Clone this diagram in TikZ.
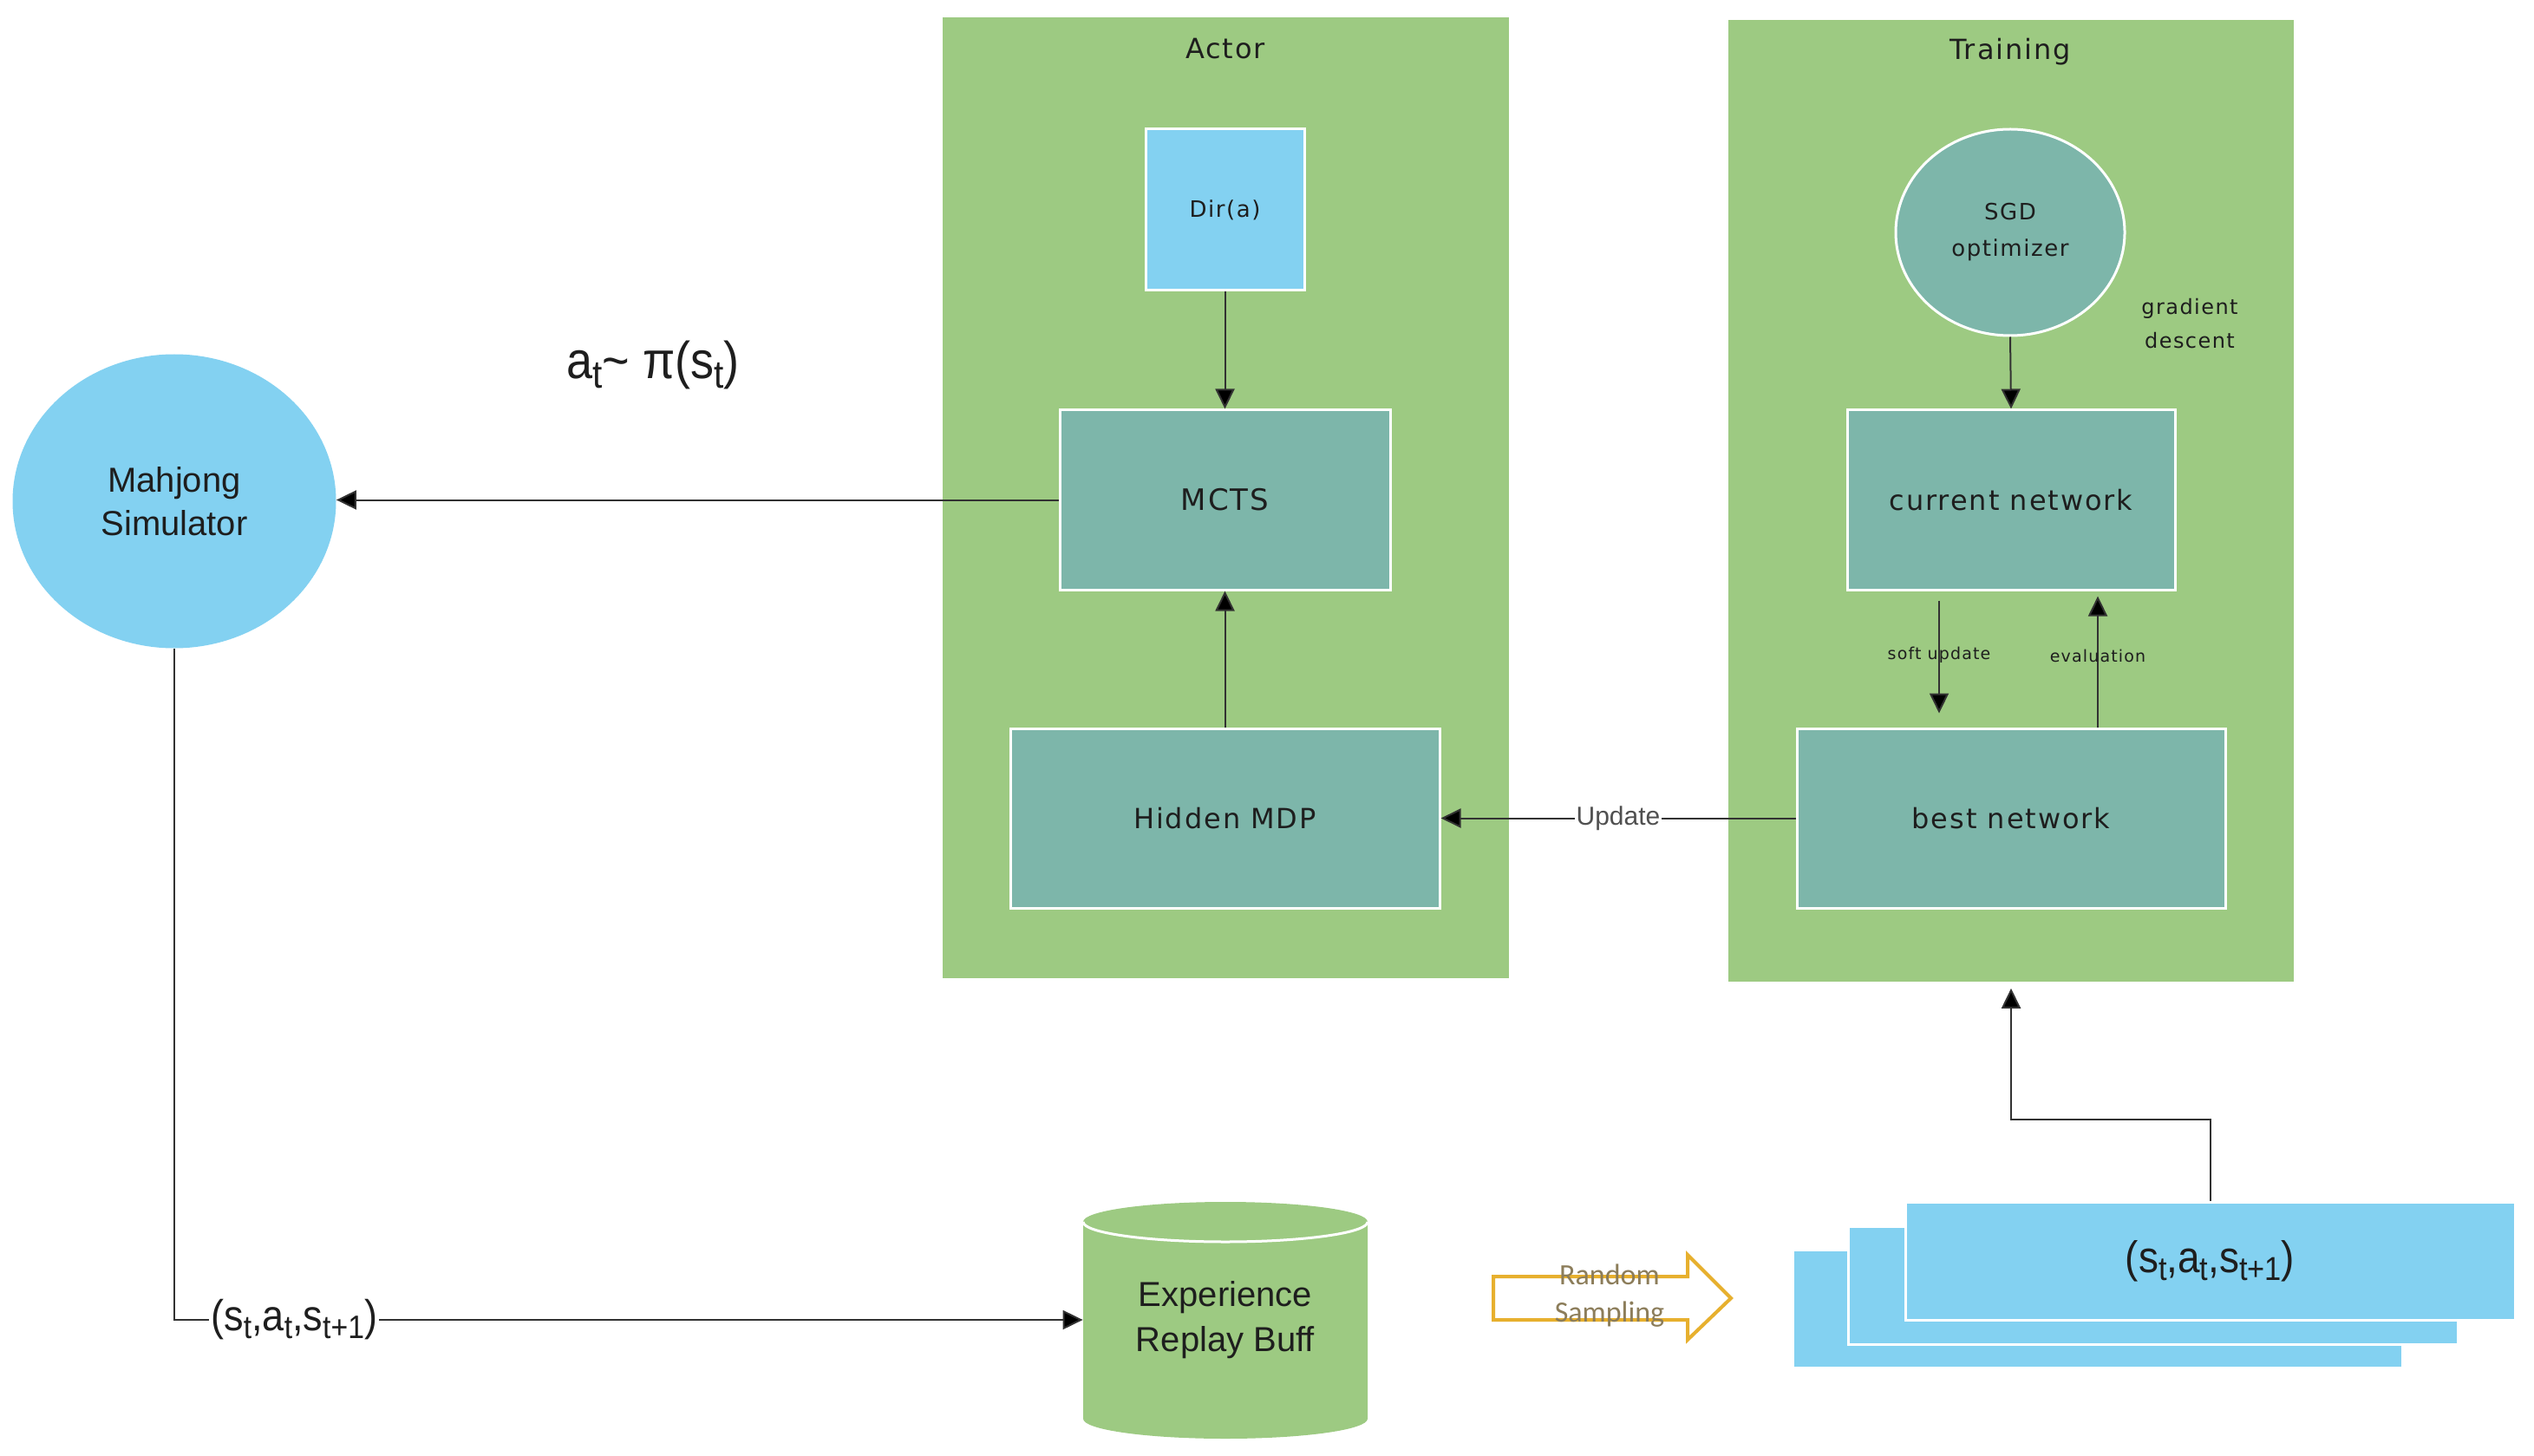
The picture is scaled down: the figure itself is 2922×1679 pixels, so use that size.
\documentclass[tikz,border=0pt]{standalone}
\usepackage{fontspec}
\setmainfont{Liberation Sans}
\newfontfamily\wide[LetterSpace=6]{DejaVu Sans}
\newfontfamily\narrow[FakeStretch=0.9]{Liberation Sans}
\newfontfamily\carl{Carlito}
\usetikzlibrary{arrows.meta,shapes.geometric}
\definecolor{pgreen}{RGB}{157,202,130}
\definecolor{pteal}{RGB}{125,182,170}
\definecolor{pblue}{RGB}{131,209,241}
\definecolor{porange}{RGB}{231,176,46}
\definecolor{pline}{RGB}{50,50,50}
\definecolor{ptext}{RGB}{30,30,30}
\newcommand\sbs[1]{\raisebox{-0.18em}{\scalebox{0.75}{#1}}}
\begin{document}
\begin{tikzpicture}[x=0.5pt,y=-0.5pt,
  panel/.style={rectangle, fill=pgreen, draw=white, line width=0.8pt, inner sep=0pt},
  ptitle/.style={font=\wide\fontsize{16}{19}\selectfont, text=ptext, inner sep=0pt},
  tealbox/.style={rectangle, fill=pteal, draw=white, line width=1.5pt, inner sep=0pt,
    font=\wide\fontsize{16}{19}\selectfont, text=ptext, align=center},
  bluebox/.style={rectangle, fill=pblue, draw=white, line width=1.5pt, inner sep=0pt,
    text=ptext, align=center},
  smalllab/.style={font=\wide\fontsize{9.5}{11}\selectfont, text=ptext, inner sep=0pt},
  arr/.style={draw=pline, line width=1pt, -{Triangle[length=11.5pt,width=11pt,fill=black]}},
]
\fill[white] (0,0) rectangle (2922,1679);
\useasboundingbox (0,0) rectangle (2922,1679);

% panels
\node[panel, minimum width=327.5pt, minimum height=555pt] (actor) at (1413.5,574) {};
\node[panel, minimum width=327pt, minimum height=555.5pt] (train) at (2319,577.5) {};
\node[ptitle] (actort) at (1413,56) {Actor};
\node[ptitle] (traint) at (2318,60) {Training};

% actor contents
\node[bluebox, minimum width=91.5pt, minimum height=93pt, font=\wide\fontsize{13}{15}\selectfont] (dir) at (1412.5,242) {Dir(a)};
\node[tealbox, minimum width=190.5pt, minimum height=103.5pt, font=\wide\fontsize{17}{19}\selectfont] (mcts) at (1412.5,576.5) {MCTS};
\node[tealbox, minimum width=247.5pt, minimum height=103.5pt] (hmdp) at (1412.5,943.5) {Hidden MDP};

% training contents
\node[ellipse, fill=pteal, draw=white, line width=1.5pt, inner sep=0pt,
  minimum width=132pt, minimum height=119pt, align=center, text=ptext,
  font=\wide\fontsize{13}{21}\selectfont] (sgd) at (2318,268) {SGD\\optimizer};
\node[align=center, text=ptext, font=\wide\fontsize{12}{19.5}\selectfont] (grad) at (2525,373) {gradient\\descent};
\node[tealbox, minimum width=189pt, minimum height=103.5pt] (cur) at (2319,576.5) {current network};
\node[tealbox, minimum width=247pt, minimum height=103.5pt] (best) at (2319,943.5) {best network};

% simulator
\node[ellipse, fill=pblue, inner sep=0pt, minimum width=186.5pt, minimum height=169.5pt,
  align=center, text=ptext, font=\fontsize{20}{25}\selectfont] (mahjong) at (201,578) {Mahjong\\Simulator};
\node[text=ptext, font=\narrow\fontsize{30}{34}\selectfont, inner sep=0pt] (pol) at (753,421)
  {a\sbs{t}\textasciitilde{} π(s\sbs{t})};

% cylinder (replay buffer)
\fill[pgreen] (1249,1409) -- (1249,1636)
  arc[start angle=180, end angle=360, x radius=82pt, y radius=11.5pt]
  -- (1577,1409)
  arc[start angle=0, end angle=180, x radius=82pt, y radius=11.5pt] -- cycle;
\draw[white, line width=1.5pt] (1249,1409)
  arc[start angle=180, end angle=360, x radius=82pt, y radius=11.5pt];
\node[inner sep=0pt, minimum width=164pt, minimum height=110pt, align=center, text=ptext,
  font=\fontsize{20}{26}\selectfont] (buff) at (1413,1522) {Experience\\Replay Buff};

% random sampling arrow
\draw[porange, line width=2pt, line join=miter]
  (1722,1472) -- (1946,1472) -- (1946,1447) -- (1996,1497) -- (1946,1545)
  -- (1946,1522) -- (1722,1522) -- cycle;
\node[align=center, text={rgb,255:red,140;green,125;blue,90}, inner sep=0pt,
  font=\carl\fontsize{17}{21.5}\selectfont] (rs) at (1856,1494) {Random\\Sampling};

% sample stack
\node[bluebox, minimum width=351.5pt, minimum height=68pt] (back) at (2418.5,1509.5) {};
\node[bluebox, minimum width=351.5pt, minimum height=68pt] (mid) at (2483,1482) {};
\node[bluebox, minimum width=351.5pt, minimum height=68pt, font=\narrow\fontsize{25.5}{28}\selectfont]
  (front) at (2548.5,1454) {(s\sbs{t},a\sbs{t},s\sbs{t+1})};

% connectors
\draw[arr] (dir.south) -- (mcts.north);
\draw[arr] (hmdp.north) -- (mcts.south);
\draw[arr] (mcts.west) -- (mcts.west -| mahjong.east);
\draw[arr] (sgd.south) -- (cur.north);
\draw[arr, shorten <=5.5pt, shorten >=8pt] ([xshift=-41.5pt]cur.south) -- ([xshift=-41.5pt]best.north)
  node[smalllab, pos=0.47] (softl) {soft update};
\draw[arr, shorten >=3pt] ([xshift=50pt]best.north) -- ([xshift=50pt]cur.south)
  node[smalllab, pos=0.52] (evall) {evaluation};
\draw[arr] (best.west) -- (hmdp.east)
  node[midway, fill=white, inner sep=1pt, text={rgb,255:red,80;green,80;blue,80},
    font=\fontsize{15}{17}\selectfont] (updl) {Update};
\draw[arr] (mahjong.south) |- (buff.west)
  node[pos=0.566, fill=white, inner sep=1pt, text=ptext, font=\narrow\fontsize{25}{28}\selectfont] (tupl)
  {(s\sbs{t},a\sbs{t},s\sbs{t+1})};
\coordinate (turn) at (2400,1291);
\draw[arr, shorten >=3pt] (front.north) |- (turn) -| (train.south);
\end{tikzpicture}
\end{document}
